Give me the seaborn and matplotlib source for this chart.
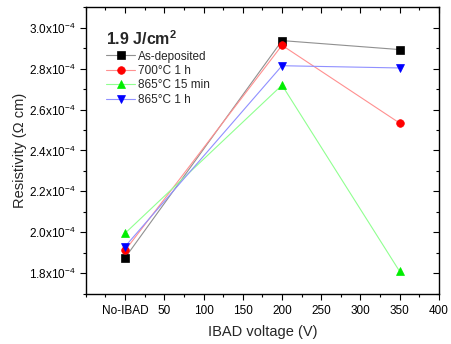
import matplotlib
matplotlib.use("Agg")
import matplotlib.pyplot as plt
from matplotlib.ticker import MultipleLocator, FuncFormatter, FixedLocator
from matplotlib.lines import Line2D
import seaborn as sns
import pandas as pd

# IBAD voltage (0 stands for the sample without IBAD)
voltage = [0, 200, 350]
tick_values = [0, 50, 100, 150, 200, 250, 300, 350, 400]
tick_labels = ["No-IBAD", "50", "100", "150", "200", "250", "300", "350", "400"]

# Resistivity in ohm*cm
as_deposited = [1.875e-4, 2.938e-4, 2.894e-4]
anneal_700_1h = [1.911e-4, 2.915e-4, 2.534e-4]
anneal_865_15min = [1.995e-4, 2.720e-4, 1.808e-4]
anneal_865_1h = [1.930e-4, 2.815e-4, 2.804e-4]

series_names = ["As-deposited", "700°C 1 h", "865°C 15 min", "865°C 1 h"]
series_values = [as_deposited, anneal_700_1h, anneal_865_15min, anneal_865_1h]
marker_colors = ["#000000", "#ff0000", "#00ee00", "#0000ff"]
line_colors = ["#909090", "#ff9090", "#90ff90", "#9090ff"]
marker_shapes = ["s", "o", "^", "v"]

sns.set_theme(style="ticks")
plt.rcParams["font.family"] = ["Liberation Sans", "DejaVu Sans"]
plt.rcParams["mathtext.fontset"] = "custom"
plt.rcParams["mathtext.rm"] = "Liberation Sans"
plt.rcParams["mathtext.it"] = "Liberation Sans:italic"
plt.rcParams["mathtext.bf"] = "Liberation Sans:bold"

fig = plt.figure(figsize=(4.52, 3.44), dpi=100)
ax = fig.add_axes([0.190, 0.145, 0.781, 0.835])

MS = 5.5
handles = []
for name, vals, mc, lc, mk in zip(series_names, series_values, marker_colors,
                                  line_colors, marker_shapes):
    df = pd.DataFrame({"voltage": voltage, "resistivity": vals})
    sns.lineplot(data=df, x="voltage", y="resistivity", ax=ax, color=lc,
                 linewidth=0.8, marker=mk, markersize=MS,
                 markerfacecolor=mc, markeredgecolor=mc, markeredgewidth=0.5,
                 legend=False)
    handles.append(Line2D([], [], color=lc, linewidth=0.8, marker=mk,
                          markersize=MS, markerfacecolor=mc,
                          markeredgecolor=mc, markeredgewidth=0.5,
                          label=name))

ax.set_xlim(-50, 400)
ax.set_ylim(1.697e-4, 3.103e-4)
ax.xaxis.set_major_locator(FixedLocator(tick_values))
ax.set_xticklabels(tick_labels)
ax.xaxis.set_minor_locator(MultipleLocator(25))
ax.yaxis.set_major_locator(MultipleLocator(0.2e-4))
ax.yaxis.set_minor_locator(MultipleLocator(0.1e-4))
ax.yaxis.set_major_formatter(
    FuncFormatter(lambda v, p: f"{v * 1e4:.1f}x10$^{{-4}}$"))

for side in ["top", "right", "bottom", "left"]:
    ax.spines[side].set_visible(True)
    ax.spines[side].set_linewidth(1.0)
    ax.spines[side].set_color("black")

ax.tick_params(which="both", direction="out", labelsize=8.5, colors="black",
               width=0.8)
ax.tick_params(which="major", length=4)
ax.tick_params(which="minor", length=2.5)
ax.tick_params(which="both", top=True, right=True)
# top/right ticks point inward
for tick in ax.xaxis.get_major_ticks() + ax.xaxis.get_minor_ticks():
    tick.tick2line.set_marker(3)
for tick in ax.yaxis.get_major_ticks() + ax.yaxis.get_minor_ticks():
    tick.tick2line.set_marker(0)

ax.set_xlabel("IBAD voltage (V)", fontsize=10.5, labelpad=6)
ax.set_ylabel("Resistivity (Ω cm)", fontsize=10.5, labelpad=1)

leg = ax.legend(handles=handles, title="1.9 J/cm$^{\\mathbf{2}}$",
                loc="upper left", bbox_to_anchor=(0.035, 0.95),
                frameon=False, fontsize=8.5,
                handlelength=2.4, handletextpad=0.25, labelspacing=0.2,
                borderpad=0.2,
                title_fontproperties={"weight": "bold", "size": 11.5})
leg._legend_box.align = "left"

fig.savefig("out.png", dpi=100)
